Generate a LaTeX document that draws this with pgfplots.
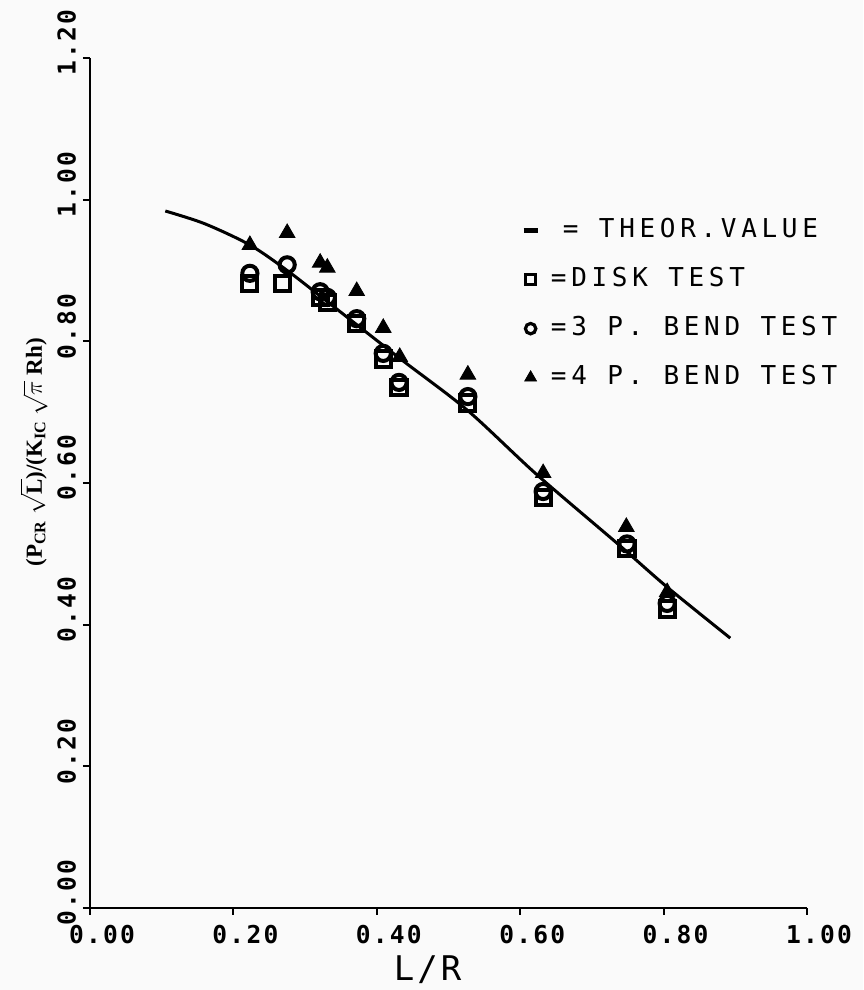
\documentclass[border=0pt]{standalone}
\usepackage{pgfplots}
\pgfplotsset{compat=1.18}
\usepackage{fontspec}
\setmainfont{Liberation Serif}
\newfontfamily\tickfont[LetterSpace=9]{DejaVu Sans Mono}
\newfontfamily\legfont[LetterSpace=18]{DejaVu Sans Mono}
\begin{document}
\begin{tikzpicture}
\fill[black!2] (-45pt,-41pt) rectangle (386.5pt,454pt);
\path[use as bounding box] (-45pt,-41pt) rectangle (386.5pt,454pt);
\begin{axis}[
  at={(0,0)}, anchor=south west,
  scale only axis, width=358.5pt, height=425pt,
  xmin=0, xmax=1, ymin=0, ymax=1.2,
  axis x line=bottom, axis y line=left,
  axis line style={-, line width=1.3pt},
  xtick={0,0.2,0.4,0.6,0.8,1}, ytick={0,0.2,0.4,0.6,0.8,1,1.2},
  tick align=outside, major tick length=3.5pt,
  tick style={line width=1pt, black},
  /pgf/number format/fixed, /pgf/number format/fixed zerofill,
  /pgf/number format/precision=2, /pgf/number format/assume math mode=true,
  ticklabel style={font=\tickfont\bfseries\fontsize{12.3}{14}\selectfont},
  xticklabel style={xshift=6pt, yshift=-1.5pt},
  yticklabel style={rotate=90, anchor=south, xshift=7.5pt},
  xlabel={L/R},
  xlabel style={at={(axis description cs:0.471,-0.073)}, anchor=center, font=\tickfont\fontsize{17}{19}\selectfont},
  ylabel={(P$_{\mathbf{CR}}$ $\sqrt{\mathbf{L}}$)/(K$_{\mathbf{IC}}$ $\sqrt{\pi}$ Rh)},
  ylabel style={at={(axis description cs:-0.078,0.536)}, anchor=center, font=\bfseries\fontsize{11.5}{12}\selectfont},
  legend style={at={(axis cs:0.601,0.978)}, anchor=north west, draw=none, fill=none, inner sep=0pt,
    font=\legfont\fontsize{13}{15}\selectfont, row sep=9.5pt, column sep=3.5pt,
    nodes={text height=9pt, text depth=2pt, inner sep=2pt}},
  legend cell align=left,
]
\addplot[smooth, line width=1.5pt, black,
  legend image code/.code={\draw[line width=2.2pt] (0.175cm,0cm) -- (0.425cm,0cm);}]
  coordinates {(0.105,0.984)(0.160,0.966)(0.223,0.936)(0.275,0.900)(0.331,0.856)(0.432,0.776)(0.526,0.703)(0.623,0.612)(0.735,0.515)(0.805,0.453)(0.893,0.381)};
\addlegendentry{\hspace{6pt}= THEOR.VALUE}
\addplot[only marks, black, mark=square, mark size=3.8pt, mark options={line width=2pt},
  legend image post style={mark size=2.6pt, mark options={line width=1.6pt}}]
  coordinates {(0.223,0.882)(0.268,0.882)(0.321,0.862)(0.331,0.855)(0.372,0.825)(0.409,0.775)(0.431,0.735)(0.527,0.713)(0.632,0.580)(0.749,0.507)(0.805,0.422)};
\addlegendentry{=DISK TEST}
\addplot[only marks, black, mark=o, mark size=3.8pt, mark options={line width=2pt},
  legend image post style={mark size=2.6pt, mark options={line width=1.6pt}}]
  coordinates {(0.223,0.896)(0.275,0.908)(0.321,0.870)(0.331,0.862)(0.372,0.832)(0.409,0.783)(0.431,0.742)(0.527,0.722)(0.632,0.588)(0.749,0.514)(0.805,0.430)};
\addlegendentry{=3 P. BEND TEST}
\addplot[only marks, black, mark=triangle*, mark size=4.5pt,
  legend image post style={mark size=3.4pt}]
  coordinates {(0.223,0.936)(0.275,0.953)(0.321,0.911)(0.331,0.904)(0.372,0.871)(0.409,0.819)(0.432,0.778)(0.527,0.753)(0.632,0.614)(0.748,0.538)(0.805,0.446)};
\addlegendentry{=4 P. BEND TEST}
\end{axis}
\end{tikzpicture}
\end{document}
